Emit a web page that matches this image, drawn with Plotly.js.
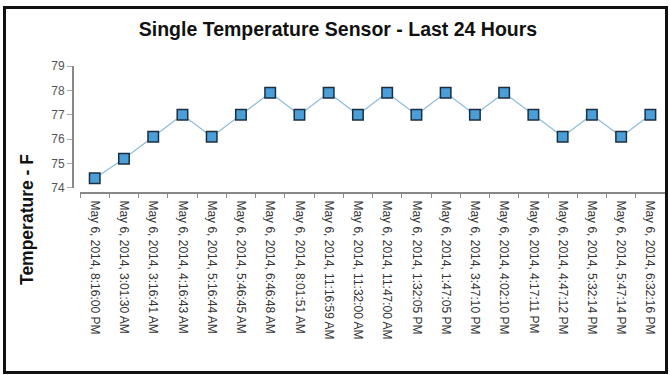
<!DOCTYPE html>
<html>
<head>
<meta charset="utf-8">
<script src="https://cdn.plot.ly/plotly-3.0.1.min.js"></script>
<style>
  html, body { margin: 0; padding: 0; background: #fff; }
  #wrap { position: relative; width: 670px; height: 375px; overflow: hidden; }
  #chart { position: absolute; left: 0; top: 0; width: 670px; height: 375px; }
  #frame { position: absolute; left: 3px; top: 6px; width: 659px; height: 362px; border: 3px solid #111; pointer-events: none; }
</style>
</head>
<body>
<div id="wrap">
  <div id="chart"></div>
  <div id="frame"></div>
</div>
<script>
const categories = [
  "May 6, 2014, 8:16:00 PM",
  "May 6, 2014, 3:01:30 AM",
  "May 6, 2014, 3:16:41 AM",
  "May 6, 2014, 4:16:43 AM",
  "May 6, 2014, 5:16:44 AM",
  "May 6, 2014, 5:46:45 AM",
  "May 6, 2014, 6:46:48 AM",
  "May 6, 2014, 8:01:51 AM",
  "May 6, 2014, 11:16:59 AM",
  "May 6, 2014, 11:32:00 AM",
  "May 6, 2014, 11:47:00 AM",
  "May 6, 2014, 1:32:05 PM",
  "May 6, 2014, 1:47:05 PM",
  "May 6, 2014, 3:47:10 PM",
  "May 6, 2014, 4:02:10 PM",
  "May 6, 2014, 4:17:11 PM",
  "May 6, 2014, 4:47:12 PM",
  "May 6, 2014, 5:32:14 PM",
  "May 6, 2014, 5:47:14 PM",
  "May 6, 2014, 6:32:16 PM"
];
const temperatures = [74.4, 75.2, 76.1, 77.0, 76.1, 77.0, 77.9, 77.0, 77.9, 77.0,
                      77.9, 77.0, 77.9, 77.0, 77.9, 77.0, 76.1, 77.0, 76.1, 77.0];
const yTicks = [74, 75, 76, 77, 78, 79];

const trace = {
  type: 'scatter',
  mode: 'lines+markers',
  x: categories,
  y: temperatures,
  line: { color: '#8dbcd9', width: 1.2 },
  marker: { symbol: 'square', size: 10.5, color: '#4b9fd8', line: { color: '#1c2f40', width: 1.5 } },
  hoverinfo: 'x+y'
};

const layout = {
  width: 670, height: 375,
  margin: { l: 73, r: 5, t: 66, b: 182, pad: 0 },
  paper_bgcolor: '#ffffff',
  plot_bgcolor: '#ffffff',
  showlegend: false,
  font: { family: 'Liberation Sans, Arial, sans-serif', color: '#333' },
  title: {
    text: '<b>Single Temperature Sensor - Last 24 Hours</b>',
    font: { size: 19.5, color: '#111', family: 'Liberation Sans, Arial, sans-serif' },
    xref: 'container', x: 338/670, xanchor: 'center',
    yref: 'container', y: 1 - 29/375, yanchor: 'middle'
  },
  xaxis: {
    type: 'category',
    domain: [0.012, 1],
    range: [-0.5, 19.5],
    anchor: 'free', position: 0,
    showline: true, linecolor: '#888', linewidth: 2,
    showgrid: false, zeroline: false,
    ticks: 'outside', ticklen: 4, tickcolor: '#888', tickwidth: 1,
    tickson: 'boundaries',
    tickangle: 90,
    ticklabelstandoff: 4,
    tickfont: { size: 12, color: '#333', family: 'Liberation Sans, Arial, sans-serif' },
    fixedrange: true
  },
  yaxis: {
    domain: [0.04, 1],
    range: [74, 79],
    anchor: 'free', position: 0,
    tickvals: yTicks,
    ticktext: yTicks.map(String),
    showline: true, linecolor: '#888', linewidth: 2,
    showgrid: false, zeroline: false,
    ticks: 'outside', ticklen: 5, tickcolor: '#aaa', tickwidth: 1,
    tickfont: { size: 12, color: '#555', family: 'Liberation Sans, Arial, sans-serif' },
    fixedrange: true
  },
  annotations: [{
    text: '<b>Temperature - F</b>',
    textangle: -90,
    xref: 'paper', yref: 'paper',
    x: (27 - 73) / 592, y: (375 - 182 - 220) / 127,
    xanchor: 'center', yanchor: 'middle',
    showarrow: false,
    font: { size: 17.5, color: '#111', family: 'Liberation Sans, Arial, sans-serif' }
  }]
};

Plotly.newPlot('chart', [trace], layout, { displayModeBar: false, staticPlot: true });
</script>
</body>
</html>
